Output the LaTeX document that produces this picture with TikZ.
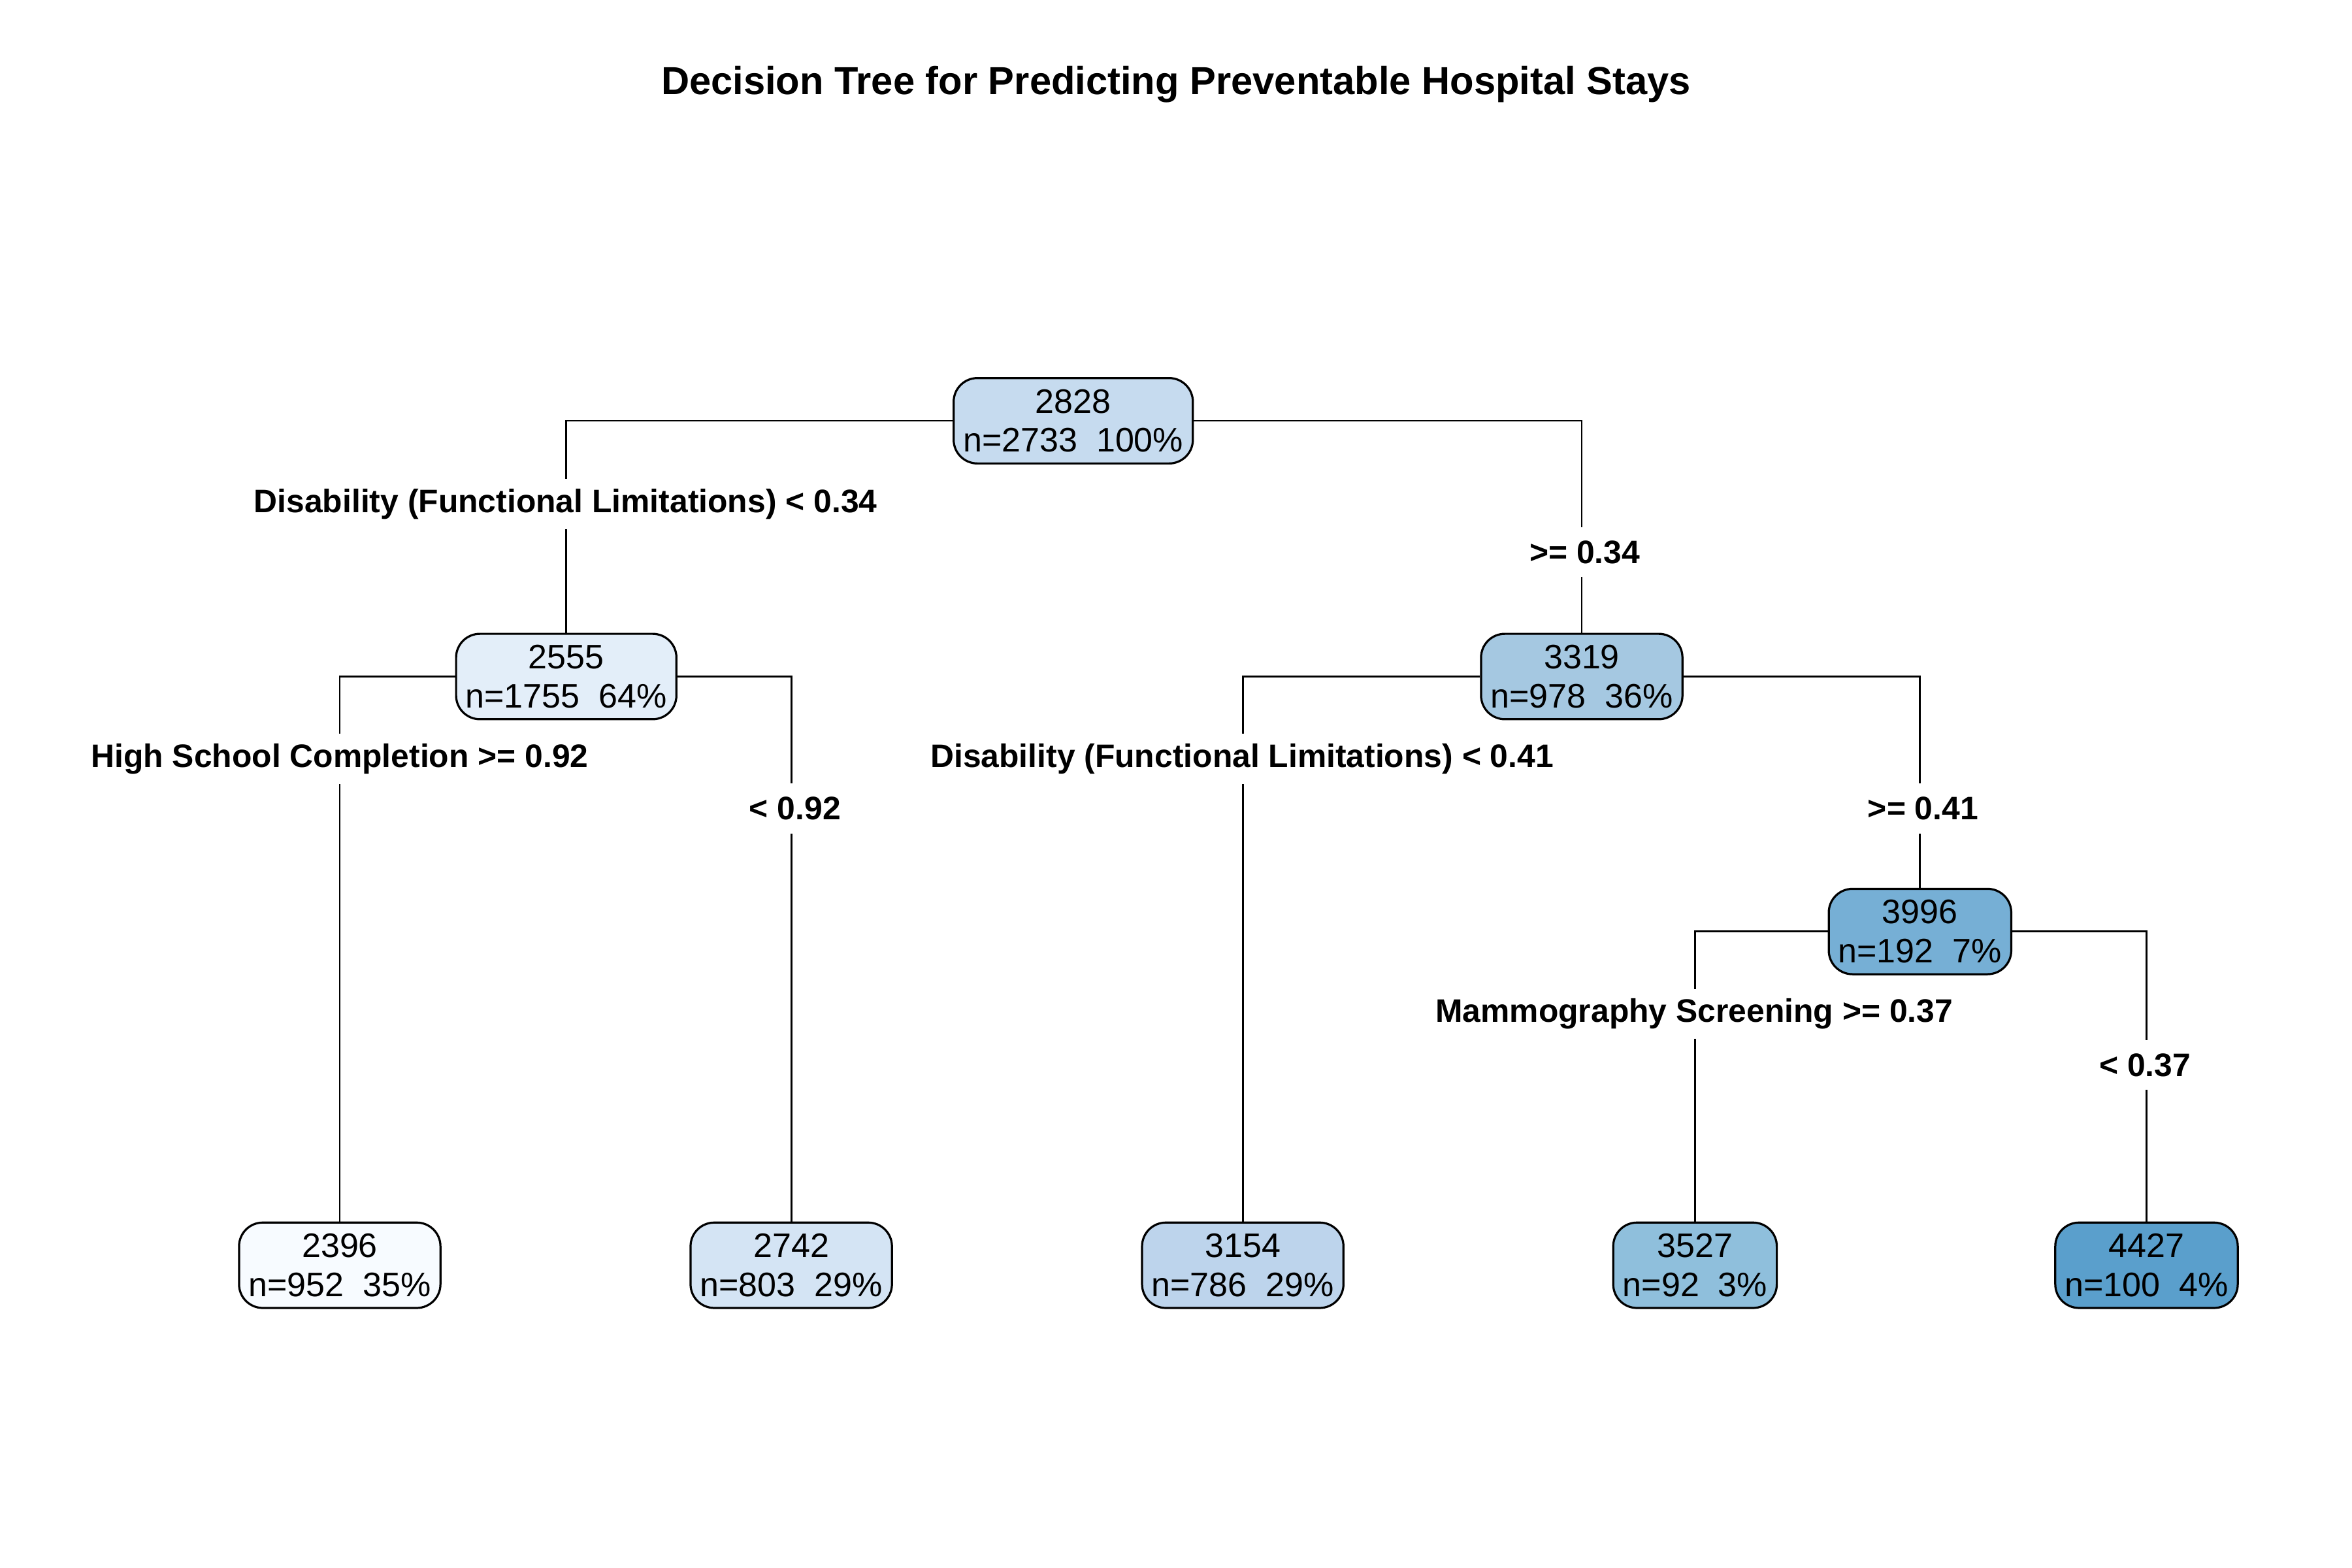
\documentclass[tikz,border=0pt]{standalone}
\usepackage{fontspec}
\setmainfont{Liberation Sans}
\definecolor{c0}{HTML}{C6DBEF}
\definecolor{c1}{HTML}{E3EEF9}
\definecolor{c2}{HTML}{A5C8E1}
\definecolor{c3}{HTML}{76AFD5}
\definecolor{l1}{HTML}{F7FBFF}
\definecolor{l2}{HTML}{D4E4F4}
\definecolor{l3}{HTML}{BDD4EC}
\definecolor{l4}{HTML}{8FBFDC}
\definecolor{l5}{HTML}{5A9FCC}
\begin{document}
\begin{tikzpicture}[x=0.02cm, y=-0.02cm,
  box/.style={draw, rounded corners=9pt, line width=0.8pt, align=center, inner xsep=3.6pt, minimum height=32.4pt, font=\fontsize{12.9}{14.8}\selectfont},
  split/.style={fill=white, inner xsep=1pt, minimum height=19pt, font=\bfseries\fontsize{12.35}{14}\selectfont},
  edge/.style={line width=0.7pt}]
\useasboundingbox[fill=white] (0,0) rectangle (1568,1045);
\node[anchor=base, font=\bfseries\fontsize{14.8}{17}\selectfont] (title) at (784,63) {Decision Tree for Predicting Preventable Hospital Stays};
% inner nodes
\node[box, fill=c0] (root) at (715.5,280.5) {2828\\n=2733\ \ 100\%};
\node[box, fill=c1] (a) at (377.5,451) {2555\\n=1755\ \ 64\%};
\node[box, fill=c2] (b) at (1054.5,451) {3319\\n=978\ \ 36\%};
\node[box, fill=c3] (ba) at (1280,621) {3996\\n=192\ \ 7\%};
% leaves
\node[box, fill=l1] (aa) at (226.5,843.5) {2396\\n=952\ \ 35\%};
\node[box, fill=l2] (ab) at (527.5,843.5) {2742\\n=803\ \ 29\%};
\node[box, fill=l3] (bb) at (828.5,843.5) {3154\\n=786\ \ 29\%};
\node[box, fill=l4] (baa) at (1130,843.5) {3527\\n=92\ \ 3\%};
\node[box, fill=l5] (bab) at (1431,843.5) {4427\\n=100\ \ 4\%};
% connectors
\draw[edge] (root.west) -| (a.north); \draw[edge] (root.east) -| (b.north);
\draw[edge] (a.west) -| (aa.north); \draw[edge] (a.east) -| (ab.north);
\draw[edge] (b.west) -| (bb.north); \draw[edge] (b.east) -| (ba.north);
\draw[edge] (ba.west) -| (baa.north); \draw[edge] (ba.east) -| (bab.north);
% split labels
\node[split] (s0) at (377,336) {Disability (Functional Limitations) < 0.34};
\node[split] (s1) at (1056.5,368) {>= 0.34};
\node[split] (s2) at (226.5,506) {High School Completion >= 0.92};
\node[split] (s3) at (530,539) {< 0.92};
\node[split] (s4) at (828,506) {Disability (Functional Limitations) < 0.41};
\node[split] (s5) at (1282,539) {>= 0.41};
\node[split] (s6) at (1129.5,676) {Mammography Screening >= 0.37};
\node[split] (s7) at (1430,710) {< 0.37};
\end{tikzpicture}
\end{document}
